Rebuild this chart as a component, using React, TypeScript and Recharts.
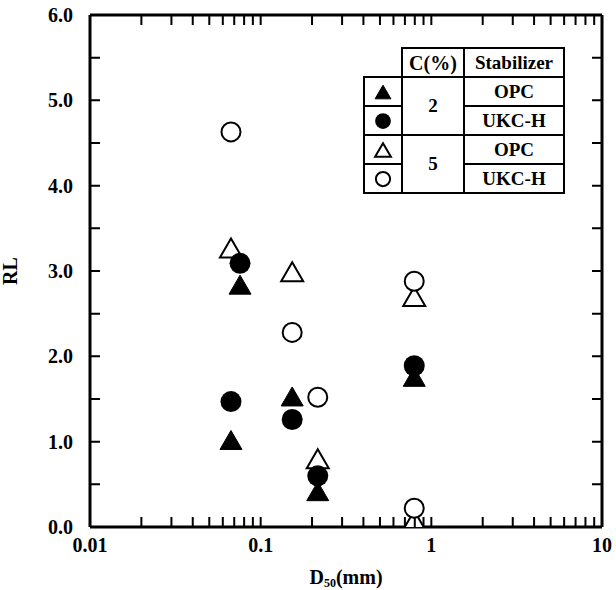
import React from 'react'
import { ScatterChart, Scatter, XAxis, YAxis, Label } from 'recharts'

// D50 (mm) vs RL
const opc2 = [
  { x: 0.0757, y: 2.84 },
  { x: 0.067, y: 1.02 },
  { x: 0.153, y: 1.53 },
  { x: 0.216, y: 0.42 },
  { x: 0.794, y: 1.76 },
]
const ukc2 = [
  { x: 0.0757, y: 3.09 },
  { x: 0.067, y: 1.47 },
  { x: 0.153, y: 1.26 },
  { x: 0.216, y: 0.6 },
  { x: 0.794, y: 1.89 },
]
const opc5 = [
  { x: 0.067, y: 3.27 },
  { x: 0.153, y: 2.99 },
  { x: 0.216, y: 0.8 },
  { x: 0.794, y: 2.7 },
  { x: 0.794, y: 0.08 },
]
const ukc5 = [
  { x: 0.067, y: 4.63 },
  { x: 0.153, y: 2.28 },
  { x: 0.216, y: 1.52 },
  { x: 0.794, y: 2.88 },
  { x: 0.794, y: 0.22 },
]

const xMajor = [0.01, 0.1, 1, 10]
const xTicks = [
  0.01, 0.02, 0.03, 0.04, 0.05, 0.06, 0.07, 0.08, 0.09,
  0.1, 0.2, 0.3, 0.4, 0.5, 0.6, 0.7, 0.8, 0.9,
  1, 2, 3, 4, 5, 6, 7, 8, 9, 10,
]
const yTicks = [0, 0.5, 1, 1.5, 2, 2.5, 3, 3.5, 4, 4.5, 5, 5.5, 6]

const W = 616
const H = 590
const M = { top: 15, right: 14, bottom: 0, left: 0 }
const PLOT_TOP = M.top
const PLOT_RIGHT = W - M.right

const FONT = '"Liberation Serif", "Times New Roman", serif'
const frame = { stroke: '#000', strokeWidth: 3 }

// bottom axis tick: inward marks at bottom and top, label on decades
function XTick(props: any) {
  const x = Number(props.x)
  const y = Number(props.y)
  const v = props.payload.value
  const major = xMajor.includes(v)
  const edge = v === 0.01 || v === 10
  return (
    <g>
      {!edge && <path d={`M${x},${y} V${y - 10} M${x},${PLOT_TOP} V${PLOT_TOP + 10}`} stroke="#000" strokeWidth={2} fill="none" />}
      {major && (
        <text x={x} y={y + 25} textAnchor="middle" fontFamily={FONT} fontWeight={700} fontSize={20} fill="#000">
          {String(v)}
        </text>
      )}
    </g>
  )
}

// left axis tick: inward marks at left and right, label on whole numbers
function YTick(props: any) {
  const x = Number(props.x)
  const y = Number(props.y)
  const v = props.payload.value
  const major = Number.isInteger(v)
  const edge = v === 0 || v === 6
  return (
    <g>
      {!edge && <path d={`M${x},${y} H${x + 10} M${PLOT_RIGHT - 10},${y} H${PLOT_RIGHT}`} stroke="#000" strokeWidth={2} fill="none" />}
      {major && (
        <text x={x - 17} y={y + 7} textAnchor="end" fontFamily={FONT} fontWeight={700} fontSize={20} fill="#000">
          {Number(v).toFixed(1)}
        </text>
      )}
    </g>
  )
}

function Tri({ cx, cy, filled, s = 1 }: { cx: number; cy: number; filled: boolean; s?: number }) {
  const w = 11 * s
  const h = 9.5 * s
  return (
    <polygon
      points={`${cx},${cy - h} ${cx + w},${cy + h} ${cx - w},${cy + h}`}
      fill={filled ? '#000' : '#fff'}
      stroke="#000"
      strokeWidth={filled ? 1 : 2}
    />
  )
}

function Dot({ cx, cy, filled, s = 1 }: { cx: number; cy: number; filled: boolean; s?: number }) {
  return (
    <circle
      cx={cx}
      cy={cy}
      r={(filled ? 10.5 : 9.5) * s}
      fill={filled ? '#000' : '#fff'}
      stroke="#000"
      strokeWidth={filled ? 0 : 2}
    />
  )
}

function LegendSymbol({ kind, filled }: { kind: 'tri' | 'dot'; filled: boolean }) {
  return (
    <svg width={20} height={20} style={{ display: 'block', margin: '0 auto' }}>
      {kind === 'tri' ? (
        <Tri cx={10} cy={10} filled={filled} s={0.72} />
      ) : (
        <Dot cx={10} cy={10} filled={filled} s={0.75} />
      )}
    </svg>
  )
}

const cell: React.CSSProperties = {
  border: '2px solid #000',
  padding: 0,
  textAlign: 'center',
  height: 27,
  lineHeight: '20px',
}

export default function App() {
  return (
    <div style={{ position: 'absolute', left: 0, top: 0, width: W, height: H, background: '#fff' }}>
      <ScatterChart width={W} height={H} margin={M}>
        <XAxis
          xAxisId="x"
          type="number"
          dataKey="x"
          scale="log"
          domain={[0.01, 10]}
          allowDataOverflow
          ticks={xTicks}
          interval={0}
          tickLine={false}
          tickSize={0}
          tickMargin={0}
          axisLine={frame}
          tick={XTick}
          height={63}
        >
          <Label
            content={({ viewBox }: any) => (
              <text
                x={viewBox.x + viewBox.width / 2}
                y={viewBox.y + 57}
                textAnchor="middle"
                fontFamily={FONT}
                fontWeight={700}
                fontSize={20}
                fill="#000"
              >
                D<tspan fontSize={12} dy={3}>50</tspan>
                <tspan dy={-3}>(mm)</tspan>
              </text>
            )}
          />
        </XAxis>
        <XAxis
          xAxisId="xt"
          orientation="top"
          mirror
          type="number"
          scale="log"
          domain={[0.01, 10]}
          allowDataOverflow
          tick={false}
          tickLine={false}
          axisLine={frame}
        />
        <YAxis
          yAxisId="y"
          type="number"
          dataKey="y"
          domain={[0, 6]}
          allowDataOverflow
          ticks={yTicks}
          interval={0}
          tickLine={false}
          tickSize={0}
          tickMargin={0}
          axisLine={frame}
          tick={YTick}
          width={90}
        >
          <Label
            content={({ viewBox }: any) => (
              <text
                x={17}
                y={viewBox.y + viewBox.height / 2}
                transform={`rotate(-90, 17, ${viewBox.y + viewBox.height / 2})`}
                textAnchor="middle"
                fontFamily={FONT}
                fontWeight={700}
                fontSize={20}
                fill="#000"
              >
                RL
              </text>
            )}
          />
        </YAxis>
        <YAxis
          yAxisId="yr"
          orientation="right"
          mirror
          type="number"
          domain={[0, 6]}
          allowDataOverflow
          tick={false}
          tickLine={false}
          axisLine={frame}
        />
        <Scatter
          data={opc5}
          xAxisId="x"
          yAxisId="y"
          isAnimationActive={false}
          shape={(p: any) => <Tri cx={p.cx} cy={p.cy} filled={false} />}
        />
        <Scatter
          data={ukc5}
          xAxisId="x"
          yAxisId="y"
          isAnimationActive={false}
          shape={(p: any) => <Dot cx={p.cx} cy={p.cy} filled={false} />}
        />
        <Scatter
          data={opc2}
          xAxisId="x"
          yAxisId="y"
          isAnimationActive={false}
          shape={(p: any) => <Tri cx={p.cx} cy={p.cy} filled />}
        />
        <Scatter
          data={ukc2}
          xAxisId="x"
          yAxisId="y"
          isAnimationActive={false}
          shape={(p: any) => <Dot cx={p.cx} cy={p.cy} filled />}
        />
      </ScatterChart>

      <table
        style={{
          position: 'absolute',
          left: 363,
          top: 47,
          borderCollapse: 'collapse',
          background: '#fff',
          fontFamily: FONT,
          fontWeight: 700,
          fontSize: 19,
          color: '#000',
        }}
      >
        <tbody>
          <tr>
            <td style={{ border: 'none', width: 35 }} />
            <td style={{ ...cell, width: 60, fontSize: 20 }}>C(%)</td>
            <td style={{ ...cell, width: 98 }}>Stabilizer</td>
          </tr>
          <tr>
            <td style={cell}><LegendSymbol kind="tri" filled /></td>
            <td style={cell} rowSpan={2}>2</td>
            <td style={cell}>OPC</td>
          </tr>
          <tr>
            <td style={cell}><LegendSymbol kind="dot" filled /></td>
            <td style={cell}>UKC-H</td>
          </tr>
          <tr>
            <td style={cell}><LegendSymbol kind="tri" filled={false} /></td>
            <td style={cell} rowSpan={2}>5</td>
            <td style={cell}>OPC</td>
          </tr>
          <tr>
            <td style={cell}><LegendSymbol kind="dot" filled={false} /></td>
            <td style={cell}>UKC-H</td>
          </tr>
        </tbody>
      </table>
    </div>
  )
}
